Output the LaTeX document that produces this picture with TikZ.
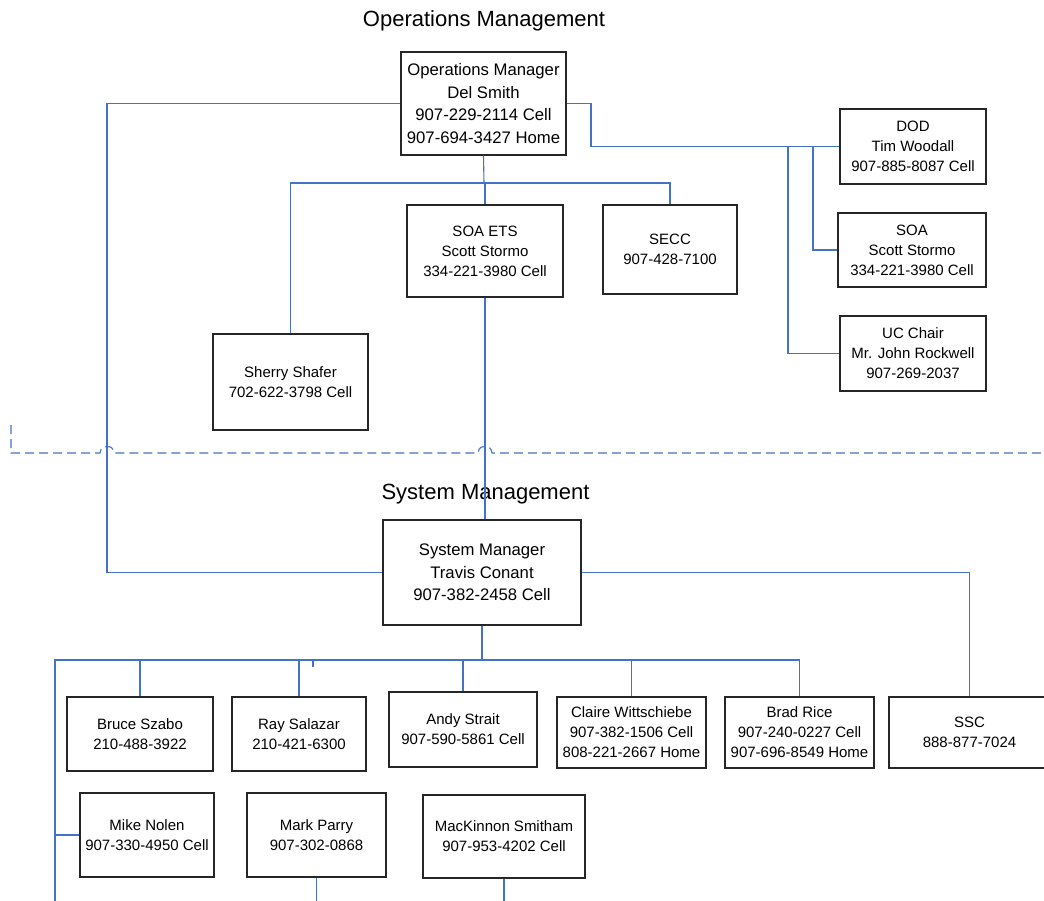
\documentclass[tikz,border=0pt]{standalone}
\usepackage{fontspec}
\setmainfont{Liberation Sans}
\definecolor{linkblue}{HTML}{4472C4}
\tikzset{
  box/.style={draw=black!85, line width=1.2pt, fill=white, align=center, inner sep=0pt,
    font=\fontsize{15}{20}\selectfont},
  bigbox/.style={box, font=\fontsize{16.7}{22.5}\selectfont},
  title/.style={inner sep=0pt, anchor=base, font=\fontsize{22}{26}\selectfont},
  link/.style={draw=linkblue, line width=1.1pt},
  thicklink/.style={draw=linkblue, line width=2pt},
  sep/.style={draw=linkblue, line width=1.1pt, dash pattern=on 9pt off 5pt}
}
\begin{document}
\begin{tikzpicture}[x=1pt, y=-1pt]
\useasboundingbox (0,0) rectangle (1044,901);
% titles
\node[title] (t1) at (484,27) {Operations Management};
\node[title] (t2) at (485.5,499) {System Management};
% upper boxes
\node[bigbox, minimum width=165pt, minimum height=103pt] (ops) at (483.5,103.5) {Operations Manager\\Del Smith\\907-229-2114 Cell\\907-694-3427 Home};
\node[box, minimum width=156pt, minimum height=92pt] (soaets) at (485,251) {SOA ETS\\Scott Stormo\\334-221-3980 Cell};
\node[box, minimum width=134pt, minimum height=89pt] (secc) at (670,249.5) {SECC\\907-428-7100};
\node[box, minimum width=155pt, minimum height=96pt] (sherry) at (290.5,382) {Sherry Shafer\\702-622-3798 Cell};
\node[box, minimum width=146pt, minimum height=75pt] (dod) at (913,146.5) {DOD\\Tim Woodall\\907-885-8087 Cell};
\node[box, minimum width=148pt, minimum height=74pt] (soa) at (912,250) {SOA\\Scott Stormo\\334-221-3980 Cell};
\node[box, minimum width=146pt, minimum height=75pt] (uc) at (913,353.5) {UC Chair\\Mr. John Rockwell\\907-269-2037};
% system management
\node[bigbox, minimum width=198pt, minimum height=105pt] (sysmgr) at (482,572.5) {System Manager\\Travis Conant\\907-382-2458 Cell};
\node[box, minimum width=146pt, minimum height=74pt] (bruce) at (140,734) {Bruce Szabo\\210-488-3922};
\node[box, minimum width=134pt, minimum height=74pt] (ray) at (299,734) {Ray Salazar\\210-421-6300};
\node[box, minimum width=148pt, minimum height=75pt] (andy) at (463,729.5) {Andy Strait\\907-590-5861 Cell};
\node[box, minimum width=149pt, minimum height=71pt] (claire) at (631.5,732.5) {Claire Wittschiebe\\907-382-1506 Cell\\808-221-2667 Home};
\node[box, minimum width=149pt, minimum height=71pt] (brad) at (799.5,732.5) {Brad Rice\\907-240-0227 Cell\\907-696-8549 Home};
\node[box, minimum width=161pt, minimum height=71pt] (ssc) at (969.5,732.5) {SSC\\888-877-7024};
\node[box, minimum width=134pt, minimum height=84pt] (mike) at (147,835) {Mike Nolen\\907-330-4950 Cell};
\node[box, minimum width=139pt, minimum height=84pt] (mark) at (316.5,835) {Mark Parry\\907-302-0868};
\node[box, minimum width=162pt, minimum height=83pt] (mack) at (504,836.5) {MacKinnon Smitham\\907-953-4202 Cell};
% operations connectors
\coordinate (jl) at (107,103.5);
\draw[link] (ops.west) -- (jl) |- (sysmgr.west);
\coordinate (jr) at (591,103.5);
\draw[link] (ops.east) -- (jr) |- (dod.west);
\coordinate (b1) at (813,146.5);
\coordinate (b2) at (788,146.5);
\draw[link] (b1) |- (soa.west);
\draw[link] (b2) |- (uc.west);
\coordinate (ob) at (484,183);
\draw[link] (ops.south) -- (ob);
\draw[link] (sherry.north) |- (ob) -| (secc.north);
\draw[link] (ob) -| (soaets.north);
\draw[link] (soaets.south) -- (soaets.south |- sysmgr.north);
% separator with hops
\draw[sep] (11,425) -- (11,453) -- (100,453)
  .. controls (101,447) and (104,446) .. (107,447)
  .. controls (110,446) and (113,447) .. (114,453) -- (478,453)
  .. controls (479,447) and (482,446) .. (485,447)
  .. controls (488,446) and (491,447) .. (492,453) -- (1044,453);
% system connectors
\draw[link] (sysmgr.east) -| (ssc.north);
\coordinate (sb) at (482,660);
\coordinate (sl) at (55,660);
\coordinate (sd) at (55,901);
\draw[thicklink] (sysmgr.south) -- (sb) -- (sl) -- (sd);
\draw[link] (sb) -| (brad.north);
\draw[link] (bruce.north) -- (bruce.north |- sb);
\draw[link] (ray.north) -- (ray.north |- sb);
\draw[thicklink] (andy.north) -- (andy.north |- sb);
\draw[link] (claire.north) -- (claire.north |- sb);
\draw[thicklink] (mike.west) -- (mike.west -| sl);
\coordinate (tick) at (313,667);
\draw[link] (tick) -- (tick |- sb);
\coordinate (md) at (316.5,901);
\coordinate (kd) at (504,901);
\draw[link] (mark.south) -- (md);
\draw[link] (mack.south) -- (kd);
\end{tikzpicture}
\end{document}
